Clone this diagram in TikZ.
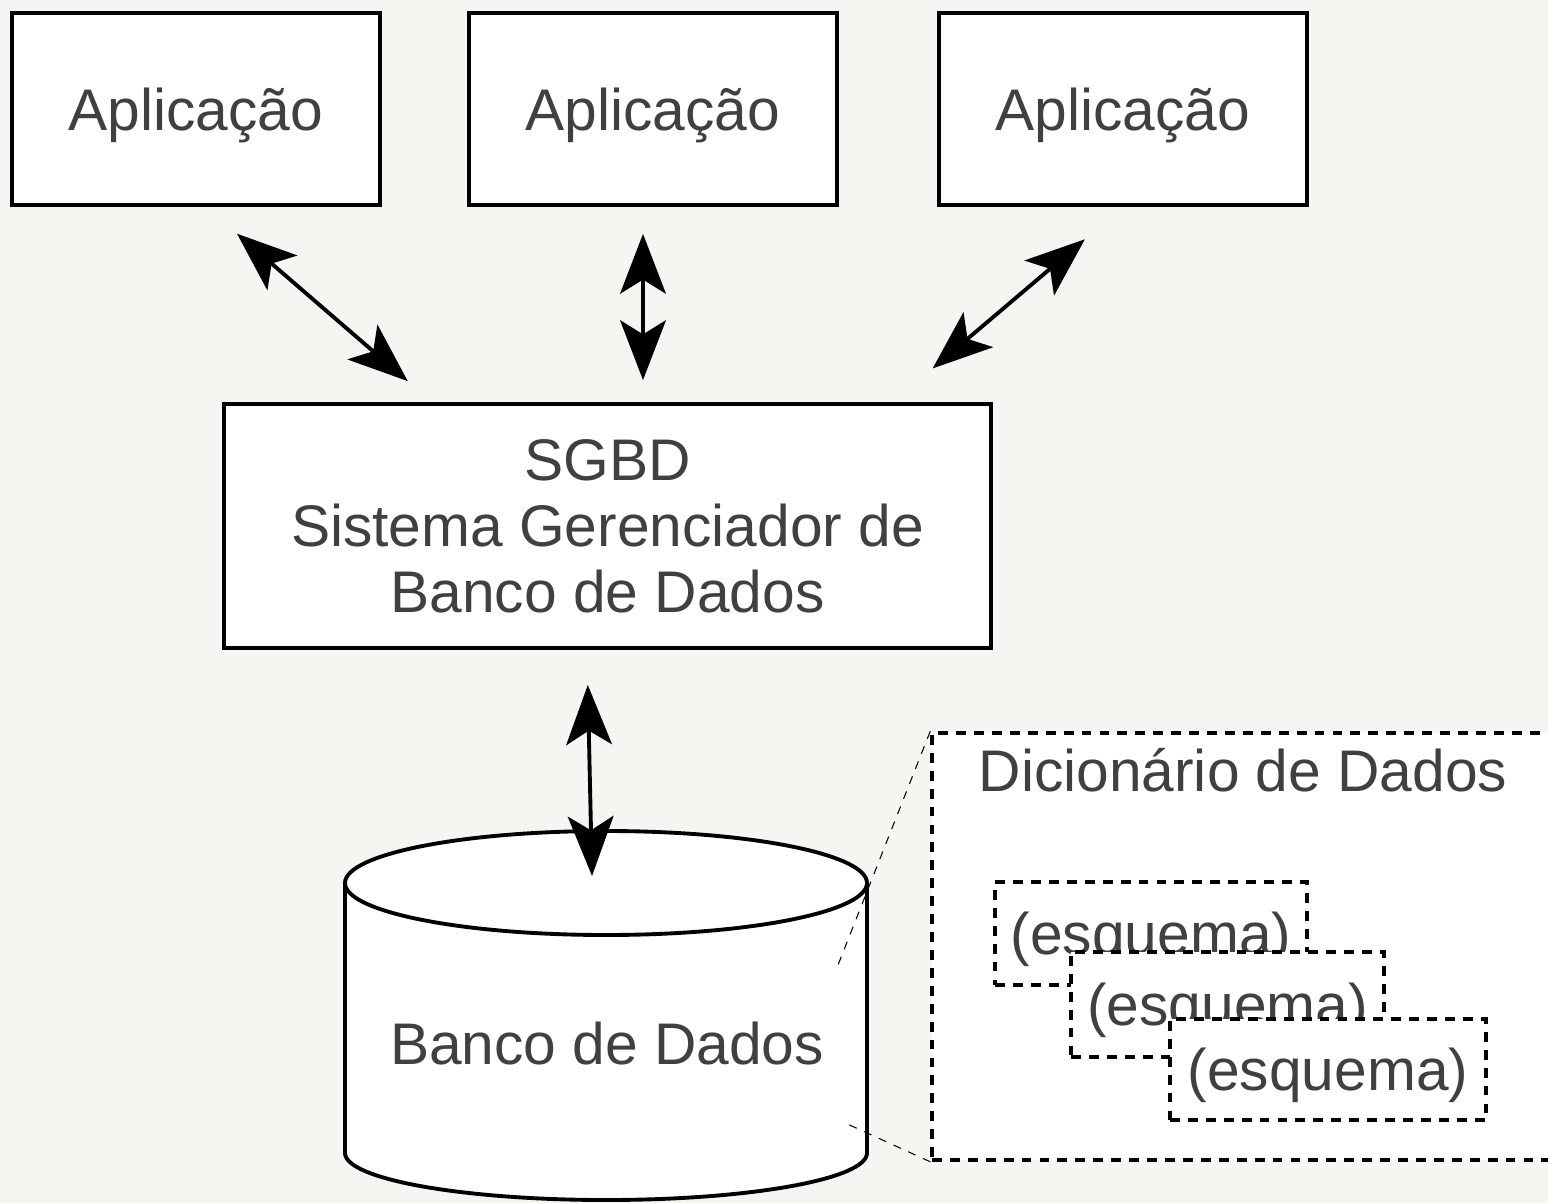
\documentclass[tikz,border=0pt]{standalone}
\usepackage{fontspec}
\setmainfont{Liberation Sans}
\usetikzlibrary{arrows.meta}
\definecolor{bgcol}{RGB}{244,246,241}
\definecolor{txtcol}{RGB}{64,64,64}
\begin{document}
\begin{tikzpicture}[
    txt/.style={text=txtcol, font=\fontsize{16.7}{18.8}\selectfont, align=center, inner sep=0pt, text depth=0pt},
    box/.style={txt, draw, line width=1.1pt, fill=white},
    dashbox/.style={txt, draw, line width=1pt, dash pattern=on 2.8pt off 2.3pt, fill=white},
    dbl/.style={{Stealth[length=17pt,width=13pt,inset=4pt]}-{Stealth[length=17pt,width=13pt,inset=4pt]}, line width=1.1pt},
    zoomline/.style={line width=0.3pt, dash pattern=on 2.3pt off 2.3pt}
  ]
  \fill[bgcol] (0, 0) rectangle (15.48, 12.03);
  \useasboundingbox (0, 0) rectangle (15.48, 12.03);

  % aplicacoes
  \node[box, minimum width=3.68cm, minimum height=1.92cm] (app1) at (1.96, 10.94){Aplicação};
  \node[box, minimum width=3.68cm, minimum height=1.92cm] (app2) at (6.53, 10.94){Aplicação};
  \node[box, minimum width=3.68cm, minimum height=1.92cm] (app3) at (11.23, 10.94){Aplicação};

  % sgbd
  \node[box, minimum width=7.67cm, minimum height=2.44cm] (sgbd) at (6.075, 6.77){SGBD\\Sistema Gerenciador de\\Banco de Dados};

  % banco de dados
  \draw[line width=1.1pt, fill=white] (3.45, 3.20) -- (3.45, 0.50)
    arc[start angle=180, end angle=360, x radius=2.61, y radius=0.47] -- (8.67, 3.20)
    arc[start angle=0, end angle=180, x radius=2.61, y radius=0.52] -- cycle;
  \draw[line width=1.1pt] (3.45, 3.20) arc[start angle=180, end angle=360, x radius=2.61, y radius=0.52];
  \node[txt] (bd) at (6.07, 1.60){Banco de Dados};
  \coordinate (bdtop) at (5.92, 3.27);

  % dicionario
  \node[dashbox, minimum width=6.28cm, minimum height=4.27cm] (dic) at (12.46, 2.565){};
  \node[txt] (dictitle) at (12.43, 4.33){Dicionário de Dados};
  \node[dashbox, minimum width=3.12cm, minimum height=1.03cm] (esq1) at (11.51, 2.695){(esquema)};
  \node[dashbox, minimum width=3.13cm, minimum height=1.05cm] (esq2) at (12.275, 1.985){(esquema)};
  \node[dashbox, minimum width=3.16cm, minimum height=1.01cm] (esq3) at (13.28, 1.335){(esquema)};

  \coordinate (zt) at (8.38, 2.38);
  \coordinate (zb) at (8.43, 0.81);
  \draw[zoomline] (dic.north west) -- (zt);
  \draw[zoomline] (dic.south west) -- (zb);

  % setas
  \draw[dbl, shorten <=0.41cm, shorten >=0.32cm] ([xshift=0.10cm]app1.south) -- ([xshift=-1.755cm]sgbd.north);
  \draw[dbl, shorten <=0.27cm, shorten >=0.22cm] ([xshift=-0.10cm]app2.south) -- ([xshift=0.355cm]sgbd.north);
  \draw[dbl, shorten <=0.50cm, shorten >=0.52cm] (app3.south) -- ([xshift=2.855cm]sgbd.north);
  \draw[dbl, shorten <=0.35cm] ([xshift=-0.205cm]sgbd.south) -- (bdtop);
\end{tikzpicture}
\end{document}
